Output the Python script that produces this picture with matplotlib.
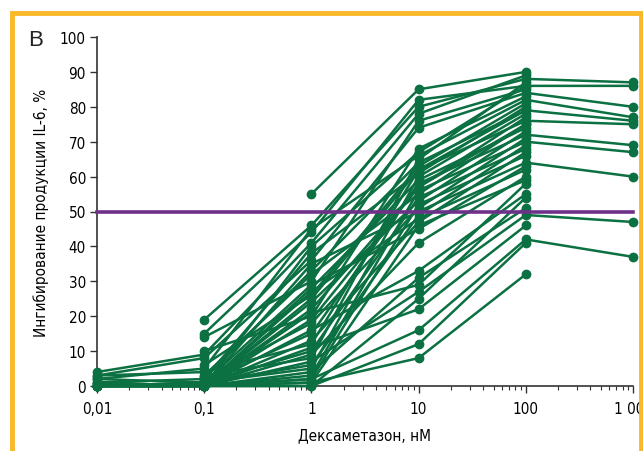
import numpy as np
import matplotlib.pyplot as plt
from matplotlib.patches import Rectangle

nan = np.nan

# dexamethasone concentrations, nM
conc = [0.01, 0.1, 1, 10, 100, 1000]
tick_labels = ['0,01', '0,1', '1', '10', '100', '1 000']

# inhibition of IL-6 per donor at each concentration (nan = not measured)
inh_001 = [nan, nan, nan, nan, 4, 3, nan, 2, nan, 1, nan, 3, nan, 0, nan, 2, nan, 1, nan, 0, nan,
           0, nan, 0, nan, 1, nan, 0, nan, 0, nan, 0, nan, 0, nan, 0, nan, 0, nan, nan, nan, 0]
inh_01 = [nan, 19, 15, 14, 9, 8, 10, 5, 3, 2, 6, 4, 2, 1, 0, 1, 0, 0, 3, 1, 0,
          0, 2, 0, 1, 0, 0, 0, 1, 0, 0, 0, 0, 0, 0, 0, 0, 0, 0, 0, 0, 0]
inh_1 = [55, 46, 44, 30, 41, 36, 20, 45, 8, 33, 26, 12, 38, 5, 28, 15, 22, 3, 32, 10, 24,
         2, 18, 35, 6, 27, 13, 1, 29, 9, 16, 4, 21, 7, 0, 11, 2, 0, 1, 40, 25, 19]
inh_10 = [85, 80, 82, 76, 78, 74, 68, 66, 65, 64, 63, 62, 61, 60, 59, 58, 57, 56, 55, 54, 53,
          52, 51, 50, 49, 48, 47, 46, 45, 41, 33, 31, 29, 27, 25, 22, 16, 12, 8, 67, 62, 57]
inh_100 = [90, 88, 86, 85, 89, 84, 83, 82, 87, 79, 81, 76, 80, 78, 74, 72, 77, 70, 75, 68, 73,
           66, 71, 64, 69, 62, 67, 59, 63, 60, 55, 51, 58, 49, 54, 46, 42, 41, 32, 86, 79, 75]
inh_1000 = [nan, 87, 86, nan, nan, 80, nan, 77, nan, 76, nan, 75, nan, nan, nan, 69, nan, 67, nan, nan, nan,
            nan, nan, 60, nan, nan, nan, nan, nan, nan, nan, nan, nan, 47, nan, nan, 37, nan, nan, nan, nan, nan]

green = '#0b7042'
purple = '#6e3189'

plt.rcParams['font.family'] = ['DejaVu Sans']
plt.rcParams['font.stretch'] = 'condensed'

fig = plt.figure(figsize=(6.43, 4.52), dpi=100)
ax = fig.add_axes([97 / 643, 1 - 387 / 452, (633 - 97) / 643, (387 - 38) / 452])

data = np.array([inh_001, inh_01, inh_1, inh_10, inh_100, inh_1000], dtype=float)
for i in range(data.shape[1]):
    y = data[:, i]
    ok = ~np.isnan(y)
    ax.plot(np.array(conc)[ok], y[ok], color=green, lw=1.8, marker='o', ms=6,
            mec=green, mfc=green, clip_on=False, zorder=3)

ax.plot([conc[0], conc[-1]], [50, 50], color=purple, lw=2.6, zorder=4, clip_on=False)

ax.set_xscale('log')
ax.set_xlim(0.01, 1000)
ax.set_ylim(0, 100)
ax.set_xticks(conc)
ax.set_xticklabels(tick_labels)
ax.set_yticks(range(0, 101, 10))
ax.tick_params(axis='both', direction='out', length=5, width=1, color='#333333', labelsize=11, pad=3)
ax.tick_params(axis='x', which='minor', length=3, width=0.8, color='#333333')
ax.tick_params(axis='x', pad=6)
for s in ['top', 'right']:
    ax.spines[s].set_visible(False)
for s in ['left', 'bottom']:
    ax.spines[s].set_color('#333333')
    ax.spines[s].set_linewidth(1.2)

ax.set_xlabel('Дексаметазон, нМ', fontsize=11, labelpad=8)
ax.set_ylabel('Ингибирование продукции IL-6, %', fontsize=11, labelpad=8)

fig.text(28 / 643, 1 - 40 / 452, 'B', fontsize=16, va='center', ha='left', color='#222222',
         family=['Liberation Sans', 'DejaVu Sans'], stretch='normal')

# orange frame
fig.patches.append(Rectangle((12 / 643, -0.05), (641 - 12) / 643, 1.05 - 14 / 452,
                             transform=fig.transFigure, fill=False, ec='#fbb828', lw=3.5))

fig.savefig('out.png', dpi=100)
